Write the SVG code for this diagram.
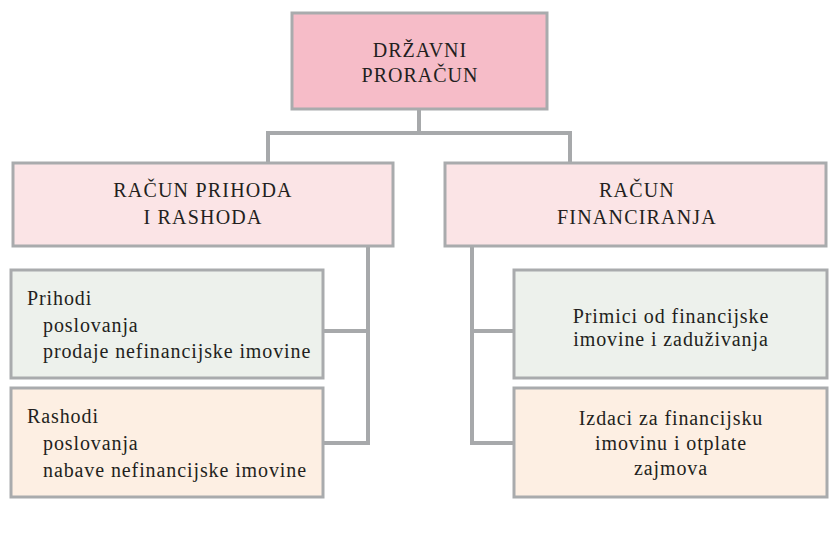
<svg xmlns="http://www.w3.org/2000/svg" width="837" height="534" viewBox="0 0 837 534">
<style>
.box{stroke:#a9abad;stroke-width:3}
.t{font-family:"Liberation Serif","Times New Roman",serif;font-size:20px;fill:#231f20}
.c{text-anchor:middle;letter-spacing:1px}
.b{letter-spacing:0.9px}
.bc{text-anchor:middle;letter-spacing:0.9px}
.conn{fill:none;stroke:#a7a9ab;stroke-width:4;stroke-linecap:square}
</style>
<rect width="837" height="534" fill="#ffffff"/>
<g id="connectors">
<path class="conn" d="M419,110 V133 M268,133 H570 M268,133 V162 M570,133 V162"/>
<path class="conn" d="M368,247 V443 M324,331 H368 M324,443 H368"/>
<path class="conn" d="M472,247 V443 M472,331 H513 M472,443 H513"/>
</g>
<g id="drzavni-proracun">
<rect class="box" x="292" y="13" width="255" height="96" fill="#f6bcc8"/>
<text class="t c" x="420" y="57">DRŽAVNI</text>
<text class="t c" x="420" y="82">PRORAČUN</text>
</g>
<g id="racun-prihoda">
<rect class="box" x="13" y="163" width="380" height="83" fill="#fbe4e6"/>
<text class="t c" x="203" y="197" style="letter-spacing:1.2px">RAČUN PRIHODA</text>
<text class="t c" x="203" y="224" style="letter-spacing:1.2px">I RASHODA</text>
</g>
<g id="racun-financiranja">
<rect class="box" x="445" y="163" width="381" height="83" fill="#fbe4e6"/>
<text class="t c" x="637" y="197" style="letter-spacing:1.2px">RAČUN</text>
<text class="t c" x="637" y="224" style="letter-spacing:1.2px">FINANCIRANJA</text>
</g>
<g id="prihodi">
<rect class="box" x="11" y="270" width="312" height="108" fill="#edf1ec"/>
<text class="t b" x="27" y="305">Prihodi</text>
<text class="t b" x="43" y="332">poslovanja</text>
<text class="t b" x="43" y="358">prodaje nefinancijske imovine</text>
</g>
<g id="rashodi">
<rect class="box" x="11" y="388" width="312" height="109" fill="#fdefe3"/>
<text class="t b" x="27" y="423">Rashodi</text>
<text class="t b" x="43" y="450">poslovanja</text>
<text class="t b" x="43" y="477">nabave nefinancijske imovine</text>
</g>
<g id="primici">
<rect class="box" x="514" y="270" width="313" height="108" fill="#edf1ec"/>
<text class="t bc" x="671" y="323">Primici od financijske</text>
<text class="t bc" x="671" y="346">imovine i zaduživanja</text>
</g>
<g id="izdaci">
<rect class="box" x="514" y="388" width="313" height="109" fill="#fdefe3"/>
<text class="t bc" x="671" y="425">Izdaci za financijsku</text>
<text class="t bc" x="671" y="450">imovinu i otplate</text>
<text class="t bc" x="671" y="475">zajmova</text>
</g>
</svg>
